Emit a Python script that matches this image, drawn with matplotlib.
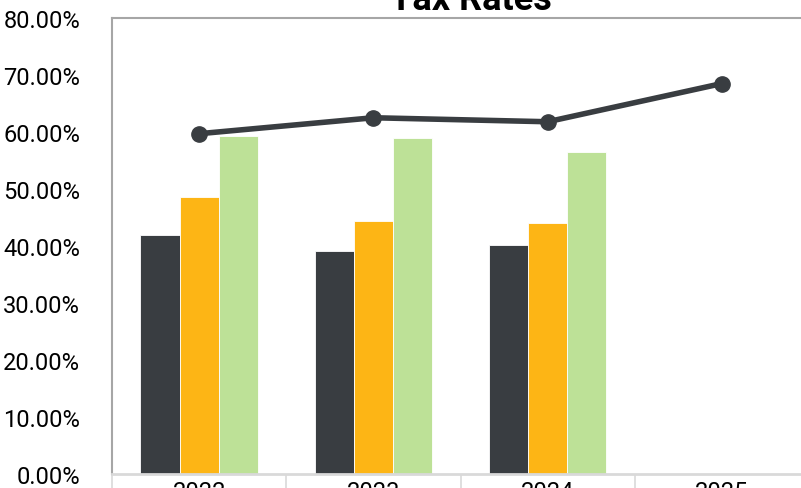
import matplotlib.pyplot as plt
import numpy as np

plt.rcParams['font.family'] = ['Roboto', 'DejaVu Sans']

years = ["2022", "2023", "2024", "2025"]
rate_a = [41.9, 39.1, 40.2, np.nan]
rate_b = [48.6, 44.4, 44.0, np.nan]
rate_c = [59.3, 58.9, 56.5, np.nan]
total_rate = [59.7, 62.5, 61.8, 68.5]
yticks = [0, 10, 20, 30, 40, 50, 60, 70, 80]

dark = "#393d41"
orange = "#fdb515"
green = "#bde197"

fig = plt.figure(figsize=(8.01, 4.89), dpi=100)
ax = fig.add_axes([112 / 801, 14 / 489, 697 / 801, 456 / 489])

x = np.arange(len(years))
w = 0.225
ax.bar(x - w, rate_a, w, color=dark, edgecolor="white", linewidth=0.6)
ax.bar(x, rate_b, w, color=orange, edgecolor="white", linewidth=0.6)
ax.bar(x + w, rate_c, w, color=green, edgecolor="white", linewidth=0.6)
ax.plot(x, total_rate, color=dark, linewidth=4, marker="o", markersize=11, zorder=3)

ax.set_xlim(-0.5, 3.5)
ax.set_ylim(0, 80)
ax.set_yticks(yticks)
ax.set_yticklabels(["%.2f%%" % v for v in yticks], fontsize=17)
ax.tick_params(axis="y", length=0, pad=23)

ax.set_xticks(x)
ax.set_xticklabels(years, fontsize=17)
ax.set_xticks(np.arange(-0.5, 4, 1), minor=True)
ax.tick_params(axis="x", which="major", length=0, pad=4)
ax.tick_params(axis="x", which="minor", length=14, width=1.2, color="#d9d9d9", direction="out")

for side in ["left", "top", "right"]:
    ax.spines[side].set_color("#a6a6a6")
    ax.spines[side].set_linewidth(1.5)
ax.spines["bottom"].set_color("#d9d9d9")
ax.spines["bottom"].set_linewidth(2)

fig.text(471 / 801, 1 - 10 / 489, "Tax Rates", ha="center", va="baseline",
         fontsize=26, fontweight="bold")

fig.savefig("out.png", dpi=100)
